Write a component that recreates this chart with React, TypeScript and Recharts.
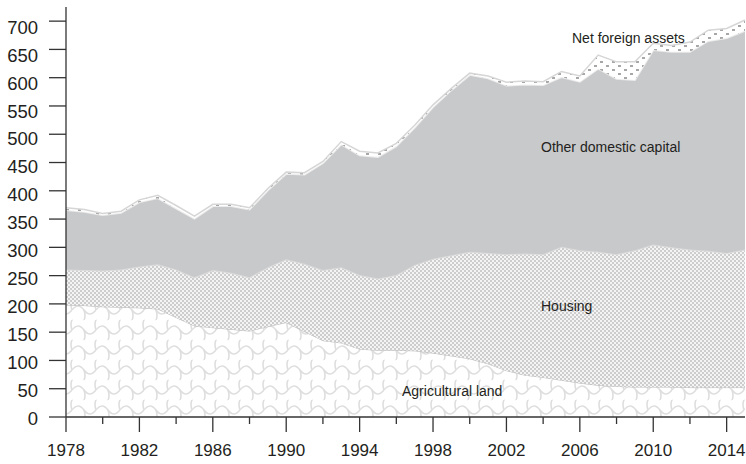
import React from "react";
import { AreaChart, Area, XAxis, YAxis } from "recharts";

// Years on the x axis
const years = [
  1978, 1979, 1980, 1981, 1982, 1983, 1984, 1985, 1986, 1987, 1988, 1989, 1990,
  1991, 1992, 1993, 1994, 1995, 1996, 1997, 1998, 1999, 2000, 2001, 2002, 2003,
  2004, 2005, 2006, 2007, 2008, 2009, 2010, 2011, 2012, 2013, 2014, 2015,
];

// Stacked components (% of national income), bottom to top
const agriculturalLand = [
  198, 197, 195, 194, 193, 191, 176, 161, 158, 155, 152, 160, 167, 151, 135, 131,
  120, 118, 118, 117, 113, 108, 103, 94, 82, 74, 70, 65, 60, 56, 54, 53, 53, 53,
  52, 52, 52, 52,
];
const housing = [
  63, 63, 64, 67, 73, 79, 85, 86, 102, 100, 95, 105, 112, 120, 125, 134, 131, 127,
  133, 152, 167, 178, 189, 196, 206, 215, 218, 236, 235, 236, 234, 242, 252, 247,
  244, 242, 238, 244,
];
const otherDomestic = [
  105, 103, 98, 100, 114, 117, 108, 104, 113, 118, 120, 136, 151, 158, 189, 217,
  212, 215, 228, 243, 268, 292, 313, 309, 298, 299, 299, 300, 298, 324, 310, 301,
  344, 346, 350, 371, 380, 387,
];
const netForeign = [
  4, 4, 3, 3, 4, 5, 5, 4, 3, 3, 3, 3, 3, 3, 3, 5, 7, 7, 5, 4, 4, 3, 3, 4, 6, 6, 6,
  10, 10, 24, 30, 32, 12, 11, 17, 19, 17, 19,
];

const xTicks = [
  1978, 1980, 1982, 1984, 1986, 1988, 1990, 1992, 1994, 1996, 1998, 2000, 2002,
  2004, 2006, 2008, 2010, 2012, 2014,
];
const yTicks = [0, 50, 100, 150, 200, 250, 300, 350, 400, 450, 500, 550, 600, 650, 700];

const data = years.map((year, i) => ({
  year,
  ag: agriculturalLand[i],
  housing: housing[i],
  other: otherDomestic[i],
  nfa: netForeign[i],
}));

const FONT = "'Liberation Sans', Arial, Helvetica, sans-serif";
const INK = "#231f20";

const XTick = ({ x, y, payload }: any) => {
  const major = (payload.value - 1978) % 4 === 0;
  return (
    <g>
      <line x1={x} x2={x} y1={y} y2={y + (major ? 15 : 7)} stroke="#333" strokeWidth={1.3} />
      {major && (
        <text x={x} y={y + 39} textAnchor="middle" fontSize={17} fontFamily={FONT} fill={INK}>
          {payload.value}
        </text>
      )}
    </g>
  );
};

const YTick = ({ x, y, payload }: any) => {
  // labels in the original drift a little below their ticks towards the top
  const shift = 1.5 + (payload.value / 700) * 4.5;
  return (
    <g>
      <line x1={x - 17} x2={x} y1={y} y2={y} stroke="#333" strokeWidth={1.3} />
      <text x={x - 28} y={y + shift + 6.5} textAnchor="end" fontSize={18.5} fontFamily={FONT} fill={INK}>
        {payload.value}
      </text>
    </g>
  );
};

const labelStyle: React.CSSProperties = {
  position: "absolute",
  fontFamily: FONT,
  fontSize: 14,
  lineHeight: 1,
  color: INK,
  whiteSpace: "nowrap",
};

export default function App() {
  return (
    <div style={{ position: "absolute", left: 0, top: 0, width: 746, height: 464, background: "#fff" }}>
      <AreaChart width={746} height={464} data={data} margin={{ top: 7, right: 1, left: 0, bottom: 0 }}>
        <defs>
          <pattern id="scales" width="24" height="20" patternUnits="userSpaceOnUse">
            <rect width="24" height="20" fill="#fff" />
            <path
              d="M0,10 Q6,2 12,10 T24,10 M-12,20 Q-6,12 0,20 M0,0 Q6,-8 12,0"
              fill="none"
              stroke="#dedede"
              strokeWidth={1.6}
            />
            <path d="M12,10 Q14,16 12,20 M0,10 Q-2,4 0,0 M24,10 Q22,4 24,0" fill="none" stroke="#dedede" strokeWidth={1.6} />
          </pattern>
          <pattern id="checker" width="4" height="4" patternUnits="userSpaceOnUse">
            <rect width="4" height="4" fill="#cdcdcd" />
            <rect x="0" y="0" width="2" height="2" fill="#f4f4f4" />
            <rect x="2" y="2" width="2" height="2" fill="#f4f4f4" />
          </pattern>
          <pattern id="dashes" width="12" height="8" patternUnits="userSpaceOnUse">
            <rect width="12" height="8" fill="#fff" />
            <path d="M0,6 L3,6 M6,2 L9,2" stroke="#8a8a8a" strokeWidth={1.6} />
          </pattern>
        </defs>
        <XAxis
          dataKey="year"
          type="number"
          domain={[1978, 2015]}
          ticks={xTicks}
          interval={0}
          height={47}
          tickSize={0}
          tickMargin={0}
          tickLine={false}
          axisLine={{ stroke: "#333", strokeWidth: 1.3 }}
          tick={<XTick />}
        />
        <YAxis
          type="number"
          domain={[0, 725]}
          ticks={yTicks}
          interval={0}
          width={66}
          tickSize={0}
          tickMargin={0}
          tickLine={false}
          axisLine={{ stroke: "#333", strokeWidth: 1.3 }}
          tick={<YTick />}
        />
        <Area
          type="linear"
          dataKey="ag"
          stackId="1"
          fill="url(#scales)"
          fillOpacity={1}
          stroke="#bdbdbd"
          strokeWidth={1}
          isAnimationActive={false}
        />
        <Area
          type="linear"
          dataKey="housing"
          stackId="1"
          fill="url(#checker)"
          fillOpacity={1}
          stroke="#dcdcdc"
          strokeWidth={2}
          isAnimationActive={false}
        />
        <Area
          type="linear"
          dataKey="other"
          stackId="1"
          fill="#c8c9cb"
          fillOpacity={1}
          stroke="#ececec"
          strokeWidth={2}
          isAnimationActive={false}
        />
        <Area
          type="linear"
          dataKey="nfa"
          stackId="1"
          fill="url(#dashes)"
          fillOpacity={1}
          stroke="#d6d6d6"
          strokeWidth={1.5}
          isAnimationActive={false}
        />
      </AreaChart>
      <div style={{ ...labelStyle, left: 572, top: 31 }}>Net foreign assets</div>
      <div style={{ ...labelStyle, left: 541, top: 140 }}>Other domestic capital</div>
      <div style={{ ...labelStyle, left: 541, top: 299 }}>Housing</div>
      <div style={{ ...labelStyle, left: 402, top: 384 }}>Agricultural land</div>
    </div>
  );
}
